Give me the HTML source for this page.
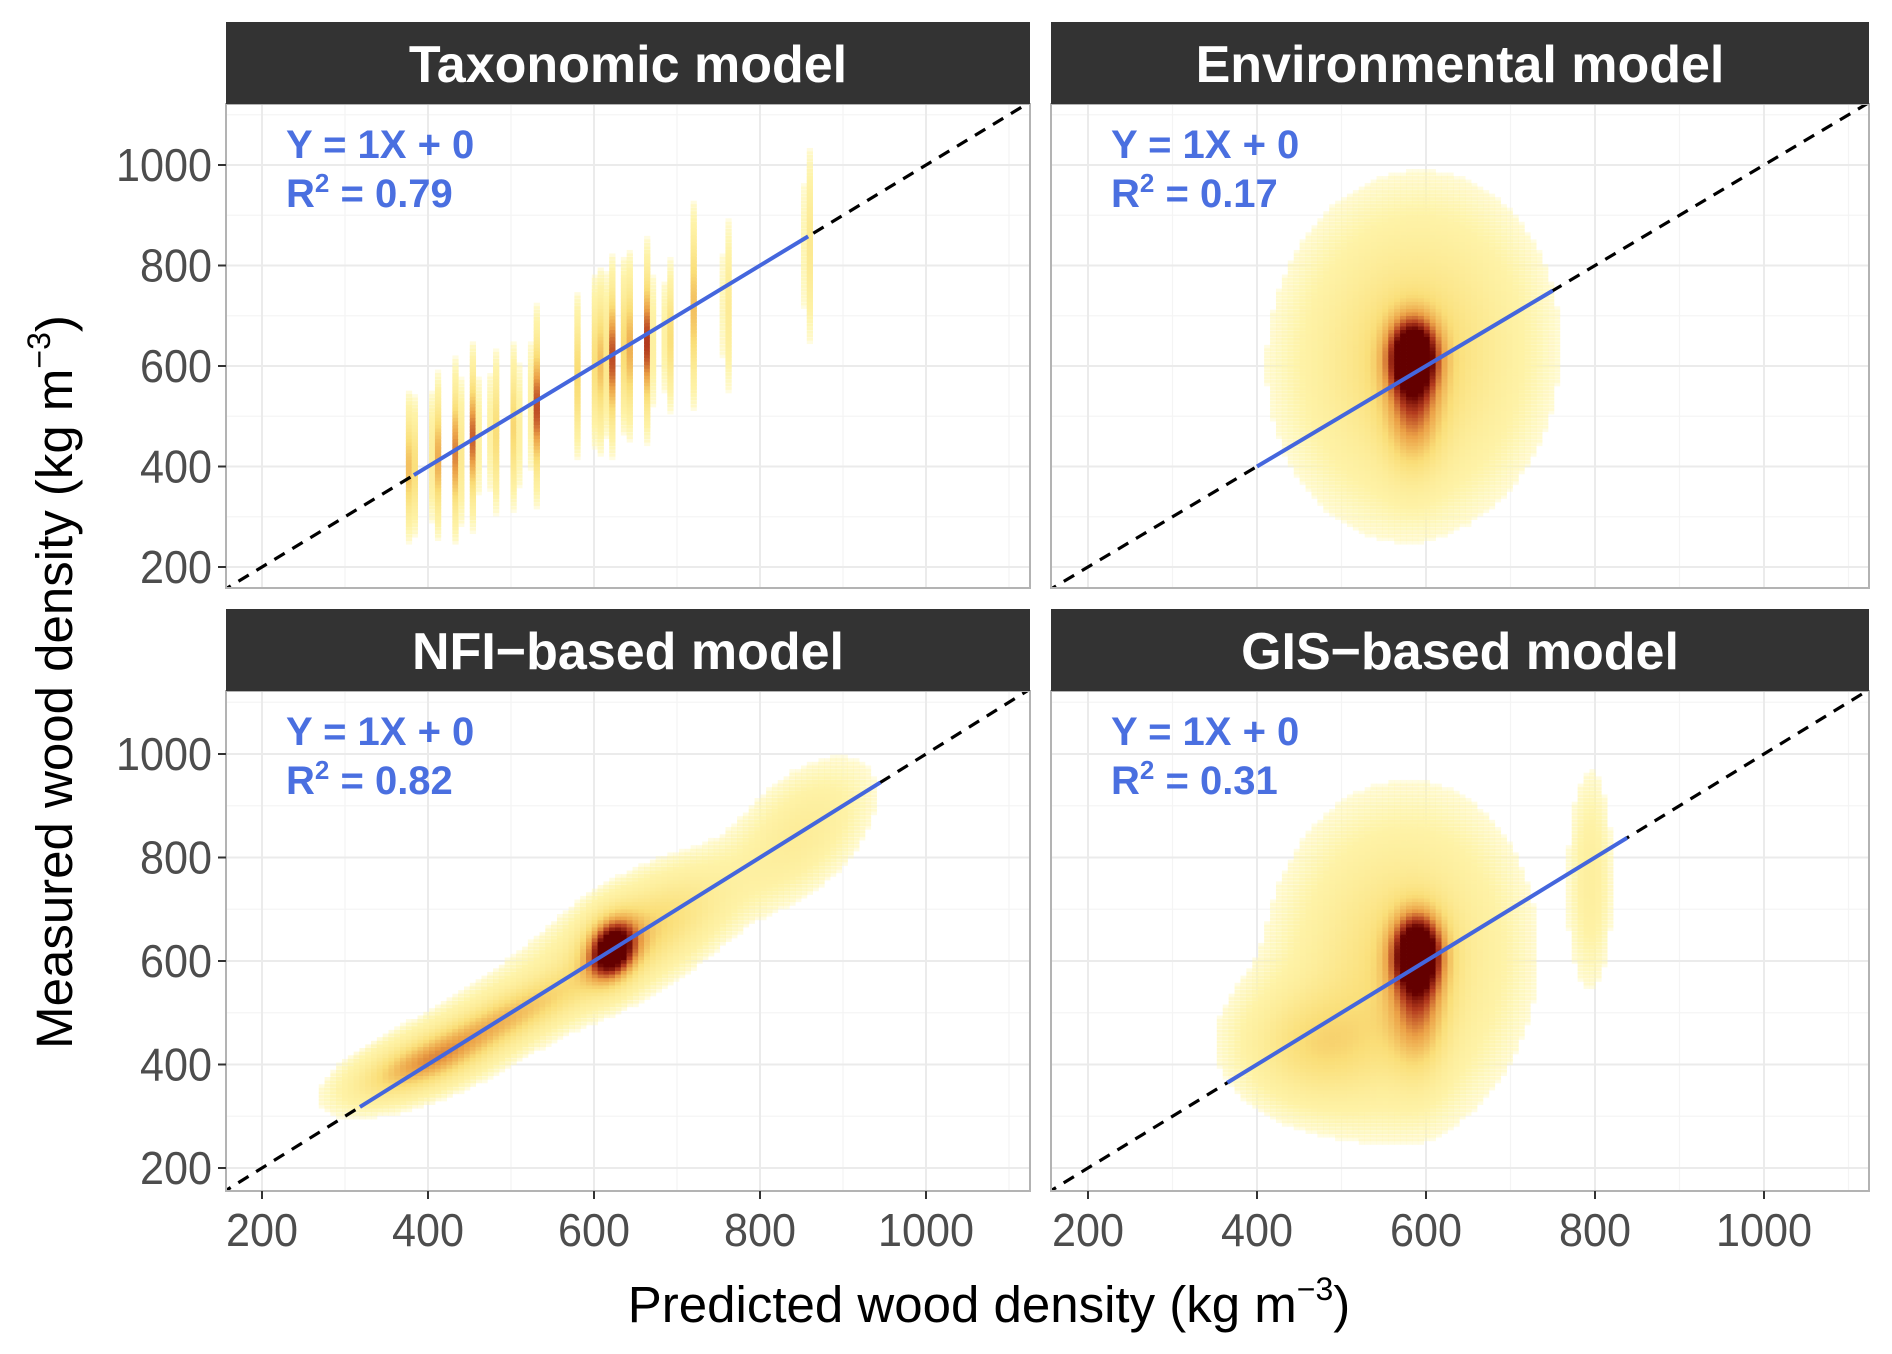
<!DOCTYPE html>
<html><head><meta charset="utf-8">
<style>
html,body{margin:0;padding:0;background:#fff;}
svg{display:block;font-family:"Liberation Sans",sans-serif;}
</style></head>
<body>
<svg id="chart" width="1892" height="1354" viewBox="0 0 1892 1354" xmlns="http://www.w3.org/2000/svg">
<text x="989" y="1322" text-anchor="middle" font-size="51" fill="#000">Predicted wood density (kg m<tspan font-size="32" dy="-22">−3</tspan><tspan dy="22">)</tspan></text>
<text transform="translate(72,682) rotate(-90)" text-anchor="middle" font-size="51" fill="#000">Measured wood density (kg m<tspan font-size="32" dy="-22">−3</tspan><tspan dy="22">)</tspan></text>
</svg>
<script>
// ---- data ----
const panelTitles = ["Taxonomic model","Environmental model","NFI−based model","GIS−based model"];
const slopes = ["1","1","1","1"];
const intercepts = ["0","0","0","0"];
const r2Values = ["0.79","0.17","0.82","0.31"];
const fitStart = [383, 400, 318, 365];
const fitEnd = [858, 750, 945, 838];
const tickValues = [200, 400, 600, 800, 1000];
const minorValues = [300, 500, 700, 900, 1100];
// taxonomic stripes: predicted values, centre measured, spread, weight
const stripeX = [380, 410, 435, 455, 480, 505, 530, 580, 605, 620, 640, 665, 690, 720, 760, 858];
const stripeY = [400, 420, 430, 460, 470, 480, 520, 580, 610, 620, 640, 650, 660, 720, 720, 840];
const stripeSpread = [65, 70, 75, 75, 75, 75, 80, 75, 80, 80, 80, 80, 70, 90, 90, 100];
const stripeWeight = [0.75, 0.65, 0.8, 0.75, 0.4, 0.45, 0.8, 0.35, 0.75, 0.95, 0.85, 0.85, 0.4, 0.45, 0.22, 0.25];
// gaussian density blobs for panels 2-4: [cx, cy, sx, sy, weight, rho]
const envBlobs = [[585,620,78,165,0.36,0.05],[585,625,20,50,1.0,0],[585,520,22,80,0.45,0]];
const nfiBlobs = [[622,625,20,40,1.0,0.2],[480,480,70,60,0.4,0.85],[390,400,50,40,0.4,0.6],[660,660,60,70,0.3,0.6],[850,850,50,80,0.15,0.5],[560,560,130,130,0.1,0.88]];
const gisBlobs = [[570,600,75,160,0.32,0.05],[590,620,20,50,1.0,0],[590,520,22,85,0.45,0],[470,440,55,70,0.28,0],[795,760,15,120,0.13,0]];

const panels = [
 {l:226,r:1030,t:104,b:588,st:22,x200:262,x1000:926,y200:567,y1000:165},
 {l:1051,r:1869,t:104,b:588,st:22,x200:1088,x1000:1764,y200:567,y1000:165},
 {l:226,r:1030,t:691,b:1191,st:609,x200:262,x1000:926,y200:1168,y1000:754},
 {l:1051,r:1869,t:691,b:1191,st:609,x200:1088,x1000:1764,y200:1168,y1000:754}
];
const NS="http://www.w3.org/2000/svg";
const svg=document.getElementById('chart');
function mk(tag,attrs,parent){const e=document.createElementNS(NS,tag);for(const k in attrs)e.setAttribute(k,attrs[k]);(parent||svg).appendChild(e);return e;}
function colorFor(t){
  const stops=[[0,[255,248,180]],[0.3,[250,222,120]],[0.55,[235,160,70]],[0.78,[180,60,30]],[1,[100,0,0]]];
  for(let i=1;i<stops.length;i++){if(t<=stops[i][0]){const a=stops[i-1],b=stops[i];const f=(t-a[0])/(b[0]-a[0]);
    return 'rgb('+a[1].map((c,j)=>Math.round(c+(b[1][j]-c)*f)).join(',')+')';}}
  return 'rgb(100,0,0)';
}
function blobDensity(blobs,x,y){let d=0;for(const b of blobs){const dx=(x-b[0])/b[2],dy=(y-b[1])/b[3],r=b[5];
  d+=b[4]*Math.exp(-(dx*dx-2*r*dx*dy+dy*dy)/(2*(1-r*r)));}return d;}
function stripeDensity(x,y){let d=0;for(let i=0;i<stripeX.length;i++){const dx=(x-stripeX[i])/3,dy=(y-stripeY[i])/stripeSpread[i];
  d+=stripeWeight[i]*Math.exp(-(dx*dx+dy*dy)/2);}return d;}

panels.forEach((p,i)=>{
  const sx=v=>p.x200+(v-200)*(p.x1000-p.x200)/800;
  const sy=v=>p.y200+(v-200)*(p.y1000-p.y200)/800;
  const g=mk('g',{});
  
  
  const clipId='clip'+i;
  const cp=mk('clipPath',{id:clipId},g);mk('rect',{x:p.l,y:p.t,width:p.r-p.l,height:p.b-p.t},cp);
  mk('rect',{x:p.l,y:p.t,width:p.r-p.l,height:p.b-p.t,fill:'#fff'},g);
  minorValues.forEach(v=>{
    mk('line',{x1:sx(v),x2:sx(v),y1:p.t,y2:p.b,stroke:'#f4f4f4','stroke-width':1.2,'clip-path':'url(#'+clipId+')'},g);
    mk('line',{x1:p.l,x2:p.r,y1:sy(v),y2:sy(v),stroke:'#f4f4f4','stroke-width':1.2,'clip-path':'url(#'+clipId+')'},g);
  });
  tickValues.forEach(v=>{
    const gx=mk('line',{x1:sx(v),x2:sx(v),y1:p.t,y2:p.b,stroke:'#ebebeb','stroke-width':2},g);
    
    
    const gy=mk('line',{x1:p.l,x2:p.r,y1:sy(v),y2:sy(v),stroke:'#ebebeb','stroke-width':2},g);
    
    
  });
  const cells=mk('g',{'clip-path':'url(#'+clipId+')'},g);
  
  
  const step=7;
  const blobs=i===1?envBlobs:i===2?nfiBlobs:gisBlobs;
  for(let x=160;x<=1120;x+=step){for(let y=160;y<=1120;y+=step){
    const d=i===0?stripeDensity(x,y):blobDensity(blobs,x,y);
    if(d<0.03)continue;
    const t=Math.min(1,Math.pow(d,1.1));
    const op=d<0.09?0.35+0.65*(d-0.03)/0.06:1;
    const c=mk('rect',{x:sx(x)-3,y:sy(y)-3,width:6.2,height:6.2,fill:colorFor(t),'fill-opacity':op.toFixed(2)},cells);
    
    
  }}
  const idl=mk('line',{x1:sx(150),y1:sy(150),x2:sx(1130),y2:sy(1130),stroke:'#000','stroke-width':3.2,'stroke-dasharray':'12,9','clip-path':'url(#'+clipId+')'},g);
  
  
  const fl=mk('line',{x1:sx(fitStart[i]),y1:sy(fitStart[i]*+slopes[i]+ +intercepts[i]),x2:sx(fitEnd[i]),y2:sy(fitEnd[i]*+slopes[i]+ +intercepts[i]),stroke:'#4466dd','stroke-width':4},g);
  
  
  mk('rect',{x:p.l,y:p.t,width:p.r-p.l,height:p.b-p.t,fill:'none',stroke:'#b3b3b3','stroke-width':2},g);
  const sr=mk('rect',{x:p.l,y:p.st,width:p.r-p.l,height:p.t-p.st,fill:'#333333'},g);
  
  
  const stt=mk('text',{x:(p.l+p.r)/2,y:p.st+(p.t-p.st)/2+19,'text-anchor':'middle','font-size':52,'font-weight':'bold',fill:'#fff'},g);
  stt.textContent=panelTitles[i];
  
  
  const ax=p.l+60, ay=p.t+54;
  const t1=mk('text',{x:ax,y:ay,'font-size':40,'font-weight':'bold',fill:'#4a6fe0'},g);
  t1.textContent='Y = '+slopes[i]+'X + '+intercepts[i];
  
  
  const t2=mk('text',{x:ax,y:ay+49,'font-size':40,'font-weight':'bold',fill:'#4a6fe0'},g);
  t2.innerHTML='R<tspan font-size="26" dy="-15">2</tspan><tspan dy="15"> = '+r2Values[i]+'</tspan>';
  
  
  if(i%2===0){tickValues.forEach(v=>{
    mk('line',{x1:p.l-8,x2:p.l,y1:sy(v),y2:sy(v),stroke:'#333','stroke-width':2},g);
    const s=String(v);
    const tl=mk('text',{x:p.l-14,y:sy(v)+16,'text-anchor':'end','font-size':46,fill:'#4d4d4d',textLength:s.length*24,lengthAdjust:'spacingAndGlyphs'},g);
    tl.textContent=s;
    
    
  });}
  if(i>=2){tickValues.forEach(v=>{
    mk('line',{x1:sx(v),x2:sx(v),y1:p.b,y2:p.b+8,stroke:'#333','stroke-width':2},g);
    const s=String(v);
    const tl=mk('text',{x:sx(v),y:p.b+55,'text-anchor':'middle','font-size':46,fill:'#4d4d4d',textLength:s.length*24,lengthAdjust:'spacingAndGlyphs'},g);
    tl.textContent=s;
    
    
  });}
});
</script>
</body></html>
